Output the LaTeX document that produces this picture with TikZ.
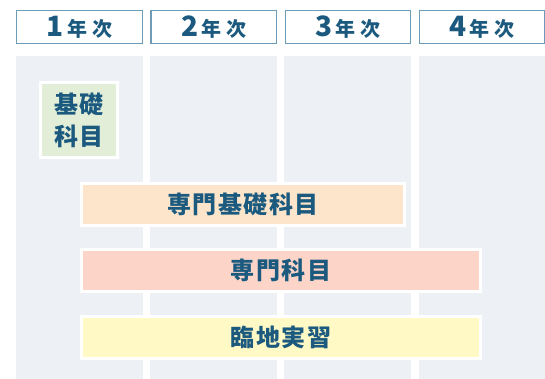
\documentclass[tikz,border=0pt]{standalone}
\usepackage{fontspec}
\newfontfamily\jp[LetterSpace=6]{Noto Sans CJK JP}
\newfontfamily\jphead{Noto Sans CJK JP}
\definecolor{textblue}{HTML}{1B5A7E}
\definecolor{frameblue}{HTML}{6D9CB9}
\definecolor{colgray}{HTML}{EDF0F5}
\definecolor{basegreen}{HTML}{E3EED8}
\definecolor{specbase}{HTML}{FDE5CB}
\definecolor{specsub}{HTML}{FCD5C8}
\definecolor{practice}{HTML}{FFF9C6}
\newcommand{\yearlabel}[1]{{\fontsize{28}{28}\selectfont #1}\hspace{3pt}{\fontsize{20}{20}\selectfont 年\hspace{5pt}次}}

\begin{document}
\begin{tikzpicture}[x=1pt, y=-1pt, every node/.style={inner sep=0pt, text=textblue, font=\jphead\bfseries},
    yearbox/.style={draw=frameblue, line width=1.3pt, fill=white, minimum width=125.5pt, minimum height=32.5pt},
    column/.style={fill=colgray, minimum width=127pt, minimum height=323pt},
    subject/.style={draw=white, line width=3pt, minimum height=42pt, font=\jp\bfseries\fontsize{24}{32}\selectfont}]
    \useasboundingbox[fill=white] (0, 0) rectangle (545, 379);

    % Define year columns
    \node[column, anchor=north] (col1) at (79.5, 56) {};
    \node[column, anchor=north] (col2) at (213.7, 56) {};
    \node[column, anchor=north] (col3) at (347.9, 56) {};
    \node[column, anchor=north] (col4) at (482.1, 56) {};

    % Define year headers
    \node[yearbox] (year1) at (79.5, 27) {\yearlabel{1}};
    \node[yearbox] (year2) at (213.7, 27) {\yearlabel{2}};
    \node[yearbox] (year3) at (347.9, 27) {\yearlabel{3}};
    \node[yearbox] (year4) at (482.1, 27) {\yearlabel{4}};

    % Define subject blocks
    \node[subject, fill=basegreen, minimum width=77pt, minimum height=75pt, align=center] (kiso) at (79, 120) {基礎\\科目};
    \node[subject, fill=specbase, minimum width=323pt] (senkiso) at (243, 204.5) {専門基礎科目};
    \node[subject, fill=specsub, minimum width=399pt] (senmon) at (281, 270.5) {専門科目};
    \node[subject, fill=practice, minimum width=399pt] (rinchi) at (281, 337.5) {臨地実習};
\end{tikzpicture}
\end{document}
